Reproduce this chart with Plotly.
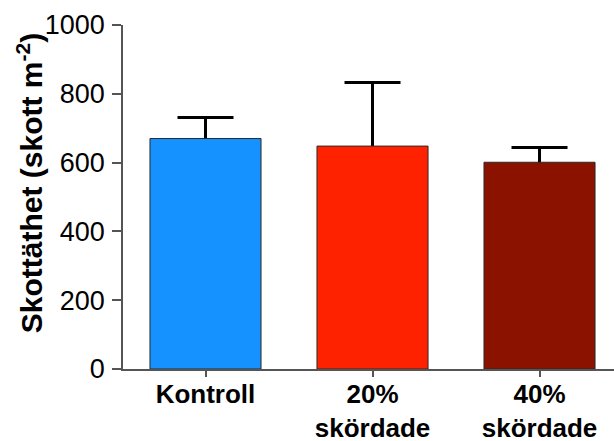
import plotly.graph_objects as go

categories = ["Kontroll", "20%<br>skördade", "40%<br>skördade"]
means = [670, 648, 601]
err_upper = [61, 185, 43]
colors = ["#1592FF", "#FF2200", "#8C1200"]
y_ticks = [0, 200, 400, 600, 800, 1000]
y_title = "Skottäthet (skott m<sup>-2</sup>)"

FONT = "Liberation Sans, Arial, sans-serif"

fig = go.Figure()
# error bars on the base subplot; bars on an overlaid axis drawn on top,
# so only the upper half of each error bar stays visible
fig.add_trace(go.Scatter(
    x=categories, y=means, mode="markers",
    marker=dict(size=1, color="rgba(0,0,0,0)"),
    error_y=dict(type="data", symmetric=True, array=err_upper,
                 color="black", thickness=3, width=28),
    hoverinfo="skip",
))
fig.add_trace(go.Bar(
    x=categories,
    y=means,
    width=0.665,
    yaxis="y2",
    marker=dict(color=colors, line=dict(color="#2a2a2a", width=1)),
))

fig.update_layout(
    width=614, height=441,
    margin=dict(l=123, r=0, t=25, b=72),
    paper_bgcolor="white", plot_bgcolor="white",
    showlegend=False,
    font=dict(family=FONT, color="black"),
    xaxis=dict(
        range=[-0.494, 2.446],
        automargin=False,
        showline=True, linecolor="#555555", linewidth=1.5,
        ticks="outside", ticklen=6, tickcolor="#555555", tickwidth=1.5,
        tickfont=dict(family=FONT, size=26, color="black", weight="bold"),
        ticklabelstandoff=-5,
        showgrid=False, zeroline=False,
    ),
    yaxis=dict(
        range=[0, 1000],
        automargin=False,
        tickvals=y_ticks,
        showline=True, linecolor="#555555", linewidth=1.5,
        ticks="outside", ticklen=9, tickcolor="#555555", tickwidth=1.5,
        tickfont=dict(family=FONT, size=27, color="black"),
        ticklabelstandoff=2,
        showgrid=False, zeroline=False,
    ),
    yaxis2=dict(
        range=[0, 1000], overlaying="y", visible=False,
        automargin=False, showgrid=False, zeroline=False,
    ),
    annotations=[dict(
        text=y_title, textangle=-90,
        xref="paper", yref="paper", x=0, y=0.54,
        xanchor="center", yanchor="middle", xshift=-93,
        showarrow=False,
        font=dict(family=FONT, size=30, color="black", weight="bold"),
    )],
)

fig.write_html("out.html",
               config={"displayModeBar": False},
               post_script="document.body.style.margin='0';")
